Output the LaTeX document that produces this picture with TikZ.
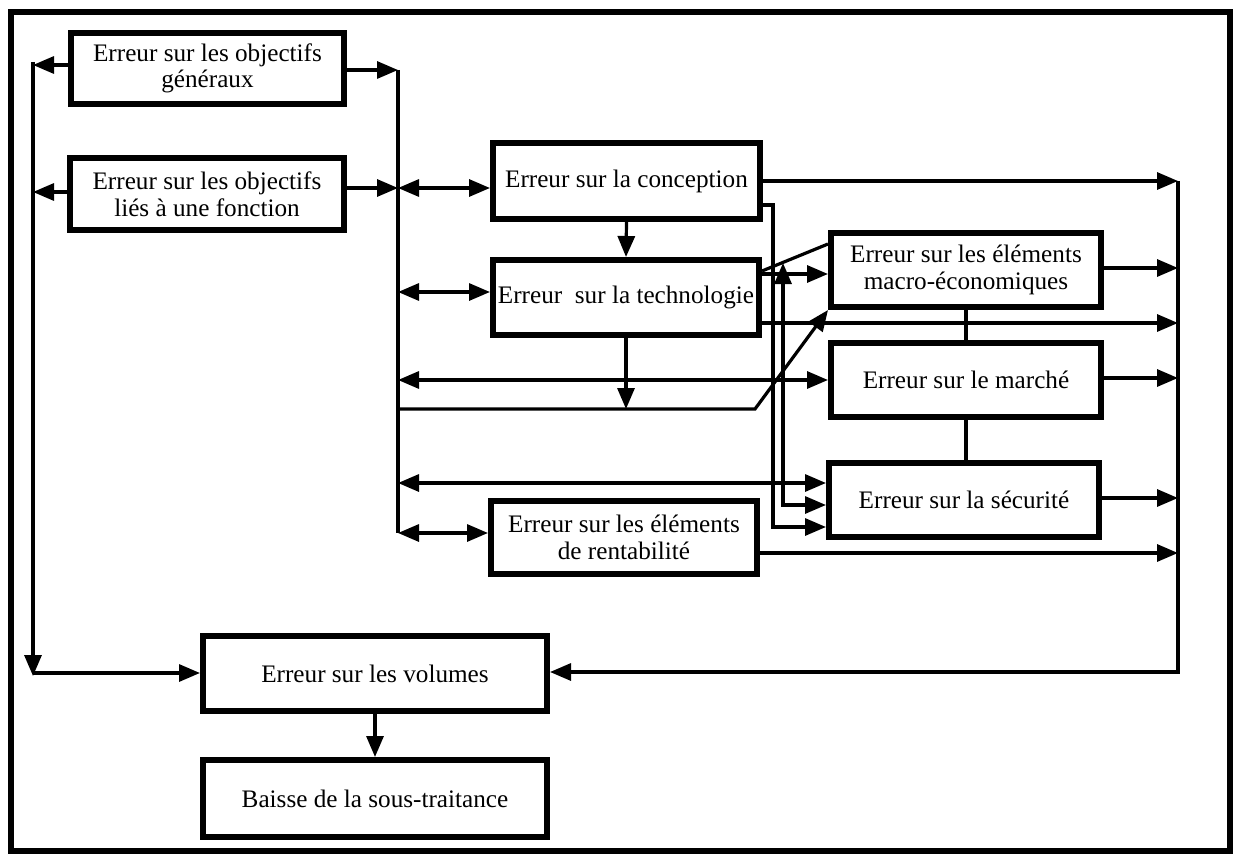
\documentclass[tikz,border=0pt]{standalone}
\usepackage{fontspec}
\setmainfont{Liberation Serif}
\usetikzlibrary{arrows.meta,calc}
\tikzset{
  conn/.style={line width=1.6pt},
  tip/.tip={Triangle[length=10.5pt,width=8.5pt]},
  arr/.style={conn,-tip},
  dbl/.style={conn,tip-tip},
  box/.style={draw,line width=3pt,align=center,inner sep=0pt,
    font=\fontsize{12.6pt}{13.3pt}\selectfont},
}
\begin{document}
\begin{tikzpicture}[x=0.5pt,y=-0.5pt]
\useasboundingbox (0,0) rectangle (1237,856);
% outer frame
\draw[line width=3pt] (11,12) rectangle (1230,851);

% boxes
\node[box,minimum width=136.5pt,minimum height=35.5pt] (gen) at (207.5,68.5) {Erreur sur les objectifs\\généraux};
\node[box,minimum width=137pt,minimum height=36pt] (fonc) at (207,194) {Erreur sur les objectifs\\liés à une fonction};
\node[box,minimum width=133.5pt,minimum height=38pt] (conc) at (626.5,181) {Erreur sur la conception};
\node[box,minimum width=133pt,minimum height=37.5pt] (tech) at (626,297.5) {Erreur\ \ sur la technologie};
\node[box,minimum width=135pt,minimum height=37pt] (macro) at (966,270) {Erreur sur les éléments\\macro-économiques};
\node[box,minimum width=135pt,minimum height=37pt] (marche) at (966,380) {Erreur sur le marché};
\node[box,minimum width=135pt,minimum height=37pt] (secu) at (964,500) {Erreur sur la sécurité};
\node[box,minimum width=133pt,minimum height=36.5pt] (rent) at (624,537.5) {Erreur sur les éléments\\de rentabilité};
\node[box,minimum width=172pt,minimum height=37.5pt] (vol) at (375,673.5) {Erreur sur les volumes};
\node[box,minimum width=172pt,minimum height=38.5pt] (baisse) at (375,798.5) {Baisse de la sous-traitance};

% left bus
\coordinate (Ltop) at (33,62);
\coordinate (La) at (33,65);
\coordinate (Lb) at (33,192);
\coordinate (Lc) at (33,673);
\coordinate (Lbot) at (33,676);
\draw[arr] (gen.west |- La) -- (La);
\draw[arr] (fonc.west |- Lb) -- (Lb);
\draw[arr] (Ltop) -- (Lbot);
\draw[arr] (Lc) -- (vol.west |- Lc);

% middle bus
\coordinate (Mtop) at (398,70);
\coordinate (M1) at (398,188);
\coordinate (M2) at (398,292);
\coordinate (M3) at (398,380);
\coordinate (M4) at (398,409);
\coordinate (M5) at (398,483);
\coordinate (Mbot) at (398,533);
\coordinate (bend) at (755,409);
\draw[conn] (Mtop) -- (Mbot);
\draw[arr] (gen.east |- Mtop) -- (Mtop);
\draw[arr] (fonc.east |- M1) -- (M1);
\draw[dbl] (M1) -- (conc.west |- M1);
\draw[dbl] (M2) -- (tech.west |- M2);
\draw[dbl] (M3) -- (marche.west |- M3);
\draw[arr] (M4) -- (bend) -- (macro.south west);
\draw[dbl] (M5) -- (secu.west |- M5);
\draw[dbl] (Mbot) -- (rent.west |- Mbot);

% links between the central boxes
\draw[arr] (conc.south) -- (tech.north);
\draw[arr] (tech.south) -- (tech.south |- M4);
\coordinate (C1) at (773,205);
\coordinate (C2) at (773,527);
\draw[arr] (conc.east |- C1) -- (C1) -- (C2) -- (secu.west |- C2);
\coordinate (V1) at (783,263);
\coordinate (V2) at (783,505);
\draw[dbl] (V1) -- (V2) -- (secu.west |- V2);
\coordinate (D1) at (0,271);
\coordinate (D2) at (0,244);
\draw[conn] (tech.east |- D1) -- (macro.west |- D2);
\coordinate (T1) at (0,274);
\draw[arr] (tech.east |- T1) -- (macro.west |- T1);
\draw[conn] (macro.south) -- (marche.north);
\draw[conn] (marche.south) -- (marche.south |- secu.north);

% right bus
\coordinate (Rtop) at (1178,181);
\coordinate (R2) at (1178,268);
\coordinate (R3) at (1178,323);
\coordinate (R4) at (1178,378);
\coordinate (R5) at (1178,498);
\coordinate (R6) at (1178,553);
\coordinate (Rbot) at (1178,672);
\draw[arr] (conc.east |- Rtop) -- (Rtop);
\draw[arr] (macro.east |- R2) -- (R2);
\draw[arr] (tech.east |- R3) -- (R3);
\draw[arr] (marche.east |- R4) -- (R4);
\draw[arr] (secu.east |- R5) -- (R5);
\draw[arr] (rent.east |- R6) -- (R6);
\draw[arr] (Rtop) -- (Rbot) -- (vol.east |- Rbot);

% result
\draw[arr] (vol.south) -- (baisse.north);
\end{tikzpicture}
\end{document}
